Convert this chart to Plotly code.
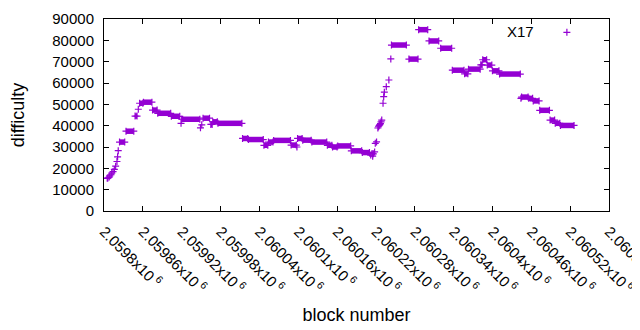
import plotly.graph_objects as go

# ---- data ----
# isolated points (block number, difficulty)
single_blocks = [2059805, 2059806, 2059808, 2059809, 2059811, 2059812, 2059814, 2059816,
                 2059818, 2059820, 2059821, 2059822, 2059853, 2059919, 2059949, 2059951,
                 2060098, 2060212, 2060214, 2060215, 2060216, 2060218, 2060219, 2060221,
                 2060223, 2060224, 2060225, 2060226, 2060227, 2060228, 2060229, 2060231,
                 2060232, 2060233, 2060236, 2060240, 2060243, 2060444]
single_values = [15300, 15500, 15900, 16500, 17000, 17800, 18500, 19500,
                 21000, 23200, 25400, 28300, 47700, 41100, 39000, 40400,
                 30000, 26200, 27000, 25700, 26800, 27700, 31700, 32400,
                 38900, 39500, 40000, 40500, 41000, 41800, 42600, 50500,
                 53600, 55700, 58300, 61400, 71300, 52800]

# runs of constant difficulty: first block, last block, difficulty
run_start = [2059824, 2059834, 2059848, 2059855, 2059861, 2059875, 2059883, 2059904,
             2059920, 2059953, 2059965, 2059968, 2059976, 2060014, 2060023, 2060047,
             2060054, 2060062, 2060089, 2060099, 2060107, 2060121, 2060145, 2060153,
             2060161, 2060182, 2060199, 2060244, 2060271, 2060286, 2060302, 2060320,
             2060338, 2060357, 2060363, 2060382, 2060385, 2060392, 2060400, 2060411,
             2060445, 2060456, 2060463, 2060473, 2060489, 2060497, 2060505]
run_end = [2059832, 2059846, 2059851, 2059860, 2059874, 2059882, 2059903, 2059917,
           2059948, 2059963, 2059967, 2059975, 2060013, 2060022, 2060046, 2060053,
           2060061, 2060088, 2060097, 2060106, 2060120, 2060144, 2060152, 2060160,
           2060181, 2060198, 2060210, 2060267, 2060285, 2060300, 2060317, 2060337,
           2060356, 2060362, 2060381, 2060384, 2060391, 2060399, 2060410, 2060443,
           2060455, 2060462, 2060472, 2060488, 2060496, 2060504, 2060526]
run_value = [32300, 37400, 44500, 50500, 51000, 47300, 45800, 44400,
             43000, 43500, 40600, 41800, 41100, 34000, 33500, 30800,
             32300, 33100, 30900, 34000, 33200, 32300, 30800, 30000,
             30500, 28200, 27400, 77800, 71200, 85000, 79700, 76300,
             66000, 64300, 66500, 68500, 70900, 68400, 65700, 64200,
             53400, 52800, 51600, 47200, 42600, 41100, 40100]

tick_vals = [2059800, 2059860, 2059920, 2059980, 2060040, 2060100, 2060160,
             2060220, 2060280, 2060340, 2060400, 2060460, 2060520, 2060580]
tick_text = ["2.0598", "2.05986", "2.05992", "2.05998", "2.06004", "2.0601", "2.06016",
             "2.06022", "2.06028", "2.06034", "2.0604", "2.06046", "2.06052", "2.06058"]
series_name = "X17"

COLOR = "#9400D3"
FONT = "Liberation Sans, Arial, sans-serif"

seg_x, seg_y = [], []
for s, e, v in zip(run_start, run_end, run_value):
    seg_x += [s, e, None]
    seg_y += [v, v, None]

mk = dict(symbol="cross-thin", size=5, line=dict(color=COLOR, width=1.2))

fig = go.Figure()
fig.add_trace(go.Scatter(
    x=seg_x, y=seg_y, mode="lines+markers",
    line=dict(color=COLOR, width=5.5), marker=mk,
    showlegend=False, hoverinfo="skip"))
fig.add_trace(go.Scatter(
    x=single_blocks, y=single_values, mode="markers", marker=mk,
    showlegend=False))
# legend sample
fig.add_trace(go.Scatter(
    x=[None], y=[None], mode="markers", name=" ", marker=mk, showlegend=True))

# page body has an 8px margin, so the figure is 632x322 and placed at (8, 8)
fig.update_layout(
    width=632, height=322,
    margin=dict(l=96, r=31, t=11, b=119, autoexpand=False),
    paper_bgcolor="white", plot_bgcolor="white",
    font=dict(family=FONT, size=15, color="black"),
    showlegend=True,
    legend=dict(x=0.877, y=1.015, xanchor="left", yanchor="top",
                bgcolor="rgba(0,0,0,0)", font=dict(size=15)),
    annotations=[dict(text=series_name, x=0.856, y=0.935, xref="paper", yref="paper",
                      xanchor="right", yanchor="middle", showarrow=False,
                      font=dict(family=FONT, size=15, color="black"))],
)
fig.update_xaxes(
    range=[2059800, 2060580], tickmode="array", tickvals=tick_vals,
    ticktext=[t + "x10<sup> 6</sup>" for t in tick_text], tickangle=45,
    ticks="inside", ticklen=5, tickcolor="black", mirror="allticks",
    showline=True, linecolor="black", linewidth=1, showgrid=False, zeroline=False,
    automargin=False, ticklabeloverflow="allow", ticklabelstandoff=5,
    title=dict(text="block number", standoff=12), tickfont=dict(size=15),
)
fig.update_yaxes(
    range=[0, 90000], tickmode="linear", tick0=0, dtick=10000, tickformat="d",
    ticks="inside", ticklen=5, tickcolor="black", mirror="allticks",
    showline=True, linecolor="black", linewidth=1, showgrid=False, zeroline=False,
    automargin=False, ticklabelstandoff=6,
    title=dict(text="difficulty", standoff=26), tickfont=dict(size=15),
)
fig.write_html("out.html")
